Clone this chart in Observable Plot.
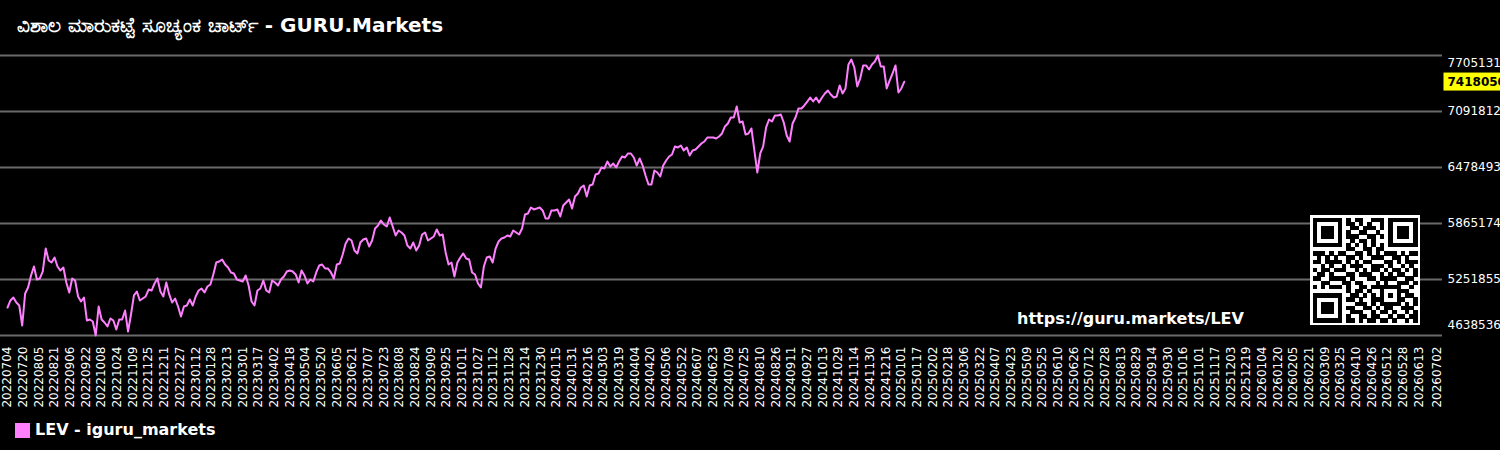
<!DOCTYPE html>
<html><head><meta charset="utf-8">
<script src="https://cdn.jsdelivr.net/npm/d3@7"></script>
<script src="https://cdn.jsdelivr.net/npm/@observablehq/plot@0.6"></script>
<style>
html,body{margin:0;padding:0;background:#000;width:1500px;height:450px;overflow:hidden;position:relative;font-family:"DejaVu Sans",sans-serif;}
#title{position:absolute;left:17px;top:10px;color:#fff;font-weight:bold;font-size:20px;line-height:30px;white-space:nowrap;}
#chart{position:absolute;left:0;top:45px;}
#legend{position:absolute;left:15px;top:420px;height:20px;display:flex;align-items:center;color:#fff;font-weight:bold;font-size:16px;line-height:20px;white-space:nowrap;}
#legend .sw{width:15px;height:15px;margin-right:5px;}
#wm{position:absolute;left:1017px;top:309px;color:#fff;font-weight:bold;font-size:16px;line-height:20px;white-space:nowrap;}
#qr{position:absolute;left:1310px;top:215px;}
</style></head>
<body>
<div id="title">ವಿಶಾಲ ಮಾರುಕಟ್ಟೆ ಸೂಚ್ಯಂಕ ಚಾರ್ಟ್ - GURU.Markets</div>
<div id="chart"></div>
<div id="wm">https://guru.markets/LEV</div>
<svg id="qr" width="110" height="110"></svg>
<div id="legend"><div class="sw"></div><span></span></div>
<script>
// ---- data ----
const seriesName = "LEV - iguru_markets";
const lineColor = "#ff80ff";
const startDate = "20220704";
const stepDays = 3;
const levValues = [
4945000,5022000,5055000,5000000,4967000,4748000,5099000,5164000,5296000,5394000,
5252000,5263000,5340000,5591000,5460000,5438000,5493000,5394000,5350000,5383000,
5219000,5110000,5263000,5241000,5066000,5011000,5055000,4803000,4814000,4792000,
4638536,4956000,4814000,4781000,4737000,4825000,4803000,4704000,4814000,4814000,
4912000,4682000,4869000,5077000,5120000,5022000,5044000,5066000,5142000,5131000,
5208000,5263000,5120000,5066000,5219000,5088000,5000000,5044000,4956000,4847000,
4956000,4967000,5033000,4967000,5066000,5131000,5153000,5110000,5175000,5197000,
5307000,5438000,5449000,5471000,5416000,5383000,5329000,5318000,5252000,5241000,
5230000,5296000,5186000,5011000,4967000,5131000,5153000,5241000,5131000,5110000,
5241000,5219000,5186000,5252000,5285000,5340000,5350000,5340000,5307000,5219000,
5350000,5296000,5208000,5252000,5230000,5329000,5405000,5416000,5372000,5372000,
5329000,5263000,5416000,5427000,5526000,5646000,5701000,5679000,5570000,5537000,
5657000,5690000,5701000,5613000,5679000,5810000,5843000,5898000,5854000,5832000,
5931000,5832000,5734000,5789000,5767000,5734000,5624000,5591000,5657000,5570000,
5624000,5745000,5767000,5679000,5701000,5723000,5800000,5734000,5745000,5548000,
5416000,5438000,5285000,5438000,5493000,5537000,5482000,5471000,5329000,5307000,
5208000,5164000,5394000,5493000,5504000,5438000,5591000,5668000,5701000,5712000,
5734000,5723000,5789000,5767000,5745000,5810000,5964000,5975000,6040000,6019000,
6029000,6040000,6008000,5920000,5920000,6008000,6008000,6019000,5942000,6062000,
6095000,6128000,6029000,6161000,6194000,6259000,6281000,6161000,6281000,6292000,
6402000,6413000,6479000,6468000,6544000,6489000,6522000,6479000,6544000,6599000,
6588000,6632000,6632000,6588000,6500000,6577000,6500000,6391000,6292000,6292000,
6446000,6424000,6380000,6500000,6555000,6599000,6621000,6709000,6698000,6719000,
6665000,6698000,6610000,6665000,6676000,6709000,6741000,6763000,6807000,6807000,
6807000,6796000,6818000,6851000,6928000,6960000,7026000,7026000,7147000,6971000,
6982000,6840000,6851000,6906000,6665000,6424000,6632000,6709000,6917000,7004000,
6982000,7048000,7048000,7059000,6971000,6829000,6763000,6960000,7026000,7125000,
7125000,7158000,7201000,7245000,7201000,7245000,7190000,7245000,7289000,7322000,
7278000,7245000,7256000,7377000,7289000,7344000,7607000,7661000,7574000,7366000,
7453000,7596000,7596000,7552000,7607000,7639000,7705131,7585000,7585000,7344000,
7431000,7508000,7596000,7300000,7344000,7418050
];
const yTicks = [4638536, 5251855, 5865174, 6478493, 7091812, 7705131];
const tickLabels = [
"20220704","20220720","20220805","20220821","20220906","20220922","20221008","20221024","20221109","20221125","20221211","20221227",
"20230112","20230128","20230213","20230301","20230317","20230402","20230418","20230504","20230520","20230605","20230621","20230707","20230723","20230808","20230824","20230909","20230925","20231011","20231027","20231112","20231128","20231214","20231230",
"20240115","20240131","20240216","20240303","20240319","20240404","20240420","20240506","20240522","20240607","20240623","20240709","20240725","20240810","20240826","20240911","20240927","20241013","20241029","20241114","20241130","20241216",
"20250101","20250117","20250202","20250218","20250306","20250322","20250407","20250423","20250509","20250525","20250610","20250626","20250712","20250728","20250813","20250829","20250914","20250930","20251016","20251101","20251117","20251203","20251219",
"20260104","20260120","20260205","20260221","20260309","20260325","20260410","20260426","20260512","20260528","20260613","20260702"
];
const qrRows = [
"1111111010110011101111111",
"1000001011010100101000001",
"1011101001101110101011101",
"1011101010011001001011101",
"1011101011100110101011101",
"1000001001011010001000001",
"1111111010101010101111111",
"0000000011001101100000000",
"1110101100110101011101011",
"0101010011010011100110100",
"1101111010101100011010111",
"0010100101110011101001010",
"1011011100101011010110101",
"0110100011011100101011001",
"1100111101000110111100110",
"0011000110110001010011101",
"1010111010011011111110010",
"0000000010110100100011100",
"1111111001101010101010110",
"1000001011010011100011001",
"1011101000111010111110101",
"1011101011001101011001110",
"1011101001110010110100101",
"1000001010011011001011011",
"1111111011010110110100101"
];

// ---- build ----
const parse = d3.utcParse("%Y%m%d");
const fmt = d3.utcFormat("%Y%m%d");
const start = parse(startDate);
const data = levValues.map((v, i) => ({date: d3.utcDay.offset(start, stepDays * i), value: v}));
const ticks = tickLabels.map(parse);
const last = data[data.length - 1];
const yMid = yTicks.slice(1, -1);
const txt = {frameAnchor: "right", textAnchor: "start", dx: 10, fontSize: 12, fill: "#fff"};

const plot = Plot.plot({
  width: 1500, height: 370,
  marginTop: 10, marginBottom: 80, marginLeft: 7, marginRight: 63,
  style: {background: "#000", color: "#fff", fontFamily: "DejaVu Sans", overflow: "visible"},
  x: {type: "utc", domain: [ticks[0], ticks[ticks.length - 1]]},
  y: {domain: [yTicks[0], yTicks[yTicks.length - 1]], axis: null},
  marks: [
    Plot.ruleY(yTicks, {stroke: "#6a6a6a", strokeWidth: 2, insetLeft: -7, insetRight: -5}),
    Plot.line(data, {x: "date", y: "value", stroke: lineColor, strokeWidth: 2}),
    Plot.axisX({ticks: ticks, tickFormat: fmt, tickRotate: -90, tickSize: 0, tickPadding: 11, fontSize: 12, fill: "#fff"}),
    Plot.text(yMid, {...txt, y: d => d, text: d => String(d)}),
    Plot.text([yTicks[yTicks.length - 1]], {...txt, y: d => d, text: d => String(d), dy: 8}),
    Plot.text([yTicks[0]], {...txt, y: d => d, text: d => String(d), dy: -10}),
    Plot.text([last], {...txt, y: "value", text: d => String(d.value), fill: "#000", fontWeight: "bold"})
  ]
});
document.getElementById("chart").appendChild(plot);

// yellow box behind last value (same local transform as the text)
const lastStr = String(last.value);
plot.querySelectorAll("text").forEach(t => {
  if (t.textContent === lastStr) {
    const b = t.getBBox();
    const cy = b.y + b.height / 2;
    const r = document.createElementNS("http://www.w3.org/2000/svg", "rect");
    r.setAttribute("x", b.x - 4);
    r.setAttribute("y", cy - 9);
    r.setAttribute("width", b.width + 10);
    r.setAttribute("height", 18);
    r.setAttribute("fill", "#ffff00");
    const tr = t.getAttribute("transform");
    if (tr) r.setAttribute("transform", tr);
    t.parentNode.insertBefore(r, t);
  }
});

// legend
const lg = document.getElementById("legend");
lg.querySelector(".sw").style.background = lineColor;
lg.querySelector("span").textContent = seriesName;

// QR decoration
const qr = d3.select("#qr");
qr.append("rect").attr("width", 110).attr("height", 110).attr("fill", "#fff");
const n = 25, m = 105 / n, off = 2.5;
const cells = [];
qrRows.forEach((row, r) => [...row].forEach((c, k) => { if (c === "1") cells.push([r, k]); }));
qr.append("g").attr("shape-rendering", "crispEdges").selectAll("rect").data(cells).join("rect")
  .attr("x", d => off + d[1] * m).attr("y", d => off + d[0] * m)
  .attr("width", m + 0.3).attr("height", m + 0.3).attr("fill", "#000");
</script>
</body></html>
